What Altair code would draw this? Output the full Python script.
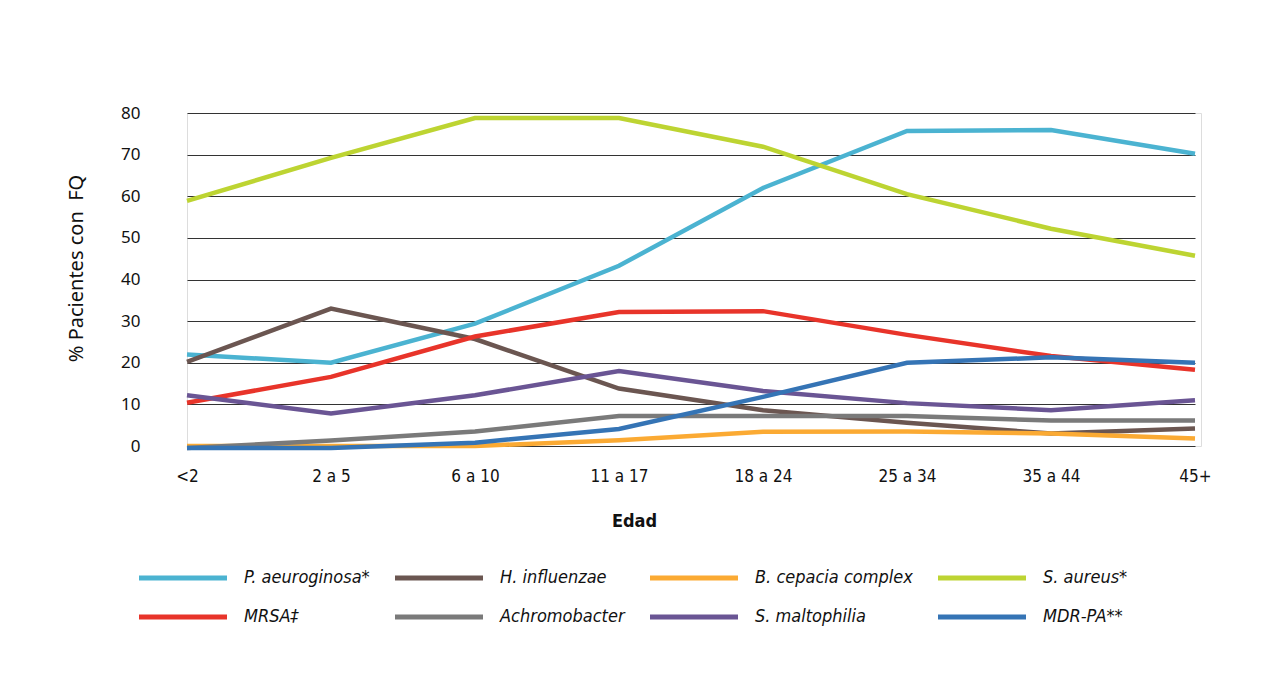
import altair as alt
import pandas as pd

ages = ["<2", "2 a 5", "6 a 10", "11 a 17", "18 a 24", "25 a 34", "35 a 44", "45+"]

series_names = [
    "P. aeuroginosa*", "H. influenzae", "B. cepacia complex", "S. aureus*",
    "MRSA\u2021", "Achromobacter", "S. maltophilia", "MDR-PA**",
]
series_colors = [
    "#4BB3D1", "#6B5651", "#FBAA33", "#BDD432",
    "#E8342A", "#7A7A7A", "#6A5594", "#3574B5",
]

p_aeruginosa = [22.0, 20.0, 29.4, 43.3, 62.0, 75.7, 75.9, 70.2]
h_influenzae = [20.2, 33.0, 25.7, 13.8, 8.6, 5.6, 3.0, 4.2]
b_cepacia = [0.0, 0.0, 0.0, 1.4, 3.4, 3.5, 3.0, 1.8]
s_aureus = [58.9, 69.2, 78.8, 78.8, 71.9, 60.5, 52.2, 45.7]
mrsa = [10.4, 16.6, 26.3, 32.2, 32.4, 26.7, 21.6, 18.3]
achromobacter = [-0.5, 1.3, 3.5, 7.2, 7.2, 7.2, 6.1, 6.1]
s_maltophilia = [12.2, 7.8, 12.2, 18.0, 13.2, 10.3, 8.6, 11.0]
mdr_pa = [-0.5, -0.5, 0.8, 4.1, 11.8, 20.0, 21.3, 20.0]

all_values = [p_aeruginosa, h_influenzae, b_cepacia, s_aureus,
              mrsa, achromobacter, s_maltophilia, mdr_pa]

rows = []
for name, vals in zip(series_names, all_values):
    for i, (age, v) in enumerate(zip(ages, vals)):
        rows.append({"Edad": age, "valor": v, "serie": name, "orden": i})
df = pd.DataFrame(rows)

narrow = "'DejaVu Sans Condensed', 'Liberation Sans Narrow', 'Noto Sans', sans-serif"
regular = "'Noto Sans', 'Open Sans', sans-serif"

chart = alt.Chart(df).mark_line(strokeWidth=4.5, strokeJoin="miter", strokeCap="butt").encode(
    x=alt.X("Edad:N", sort=ages,
            scale=alt.Scale(type="point", range=[0, 1008], padding=0),
            axis=alt.Axis(title="Edad", labelAngle=0, ticks=False, domain=False, grid=False,
                          labelFont=narrow, labelFontSize=17, labelColor="#111",
                          labelPadding=22,
                          titleFont=narrow, titleFontSize=18, titleFontWeight="bold",
                          titleColor="#111", titleX=447, titleY=66)),
    y=alt.Y("valor:Q",
            scale=alt.Scale(domain=[0, 80], nice=False, zero=False),
            axis=alt.Axis(title="% Pacientes con\u00a0 FQ", values=[0, 10, 20, 30, 40, 50, 60, 70, 80],
                          ticks=False, domain=False, grid=True, gridColor="#333", gridWidth=1,
                          labelFont=regular, labelFontSize=17, labelColor="#111", labelPadding=47,
                          titleFont=regular, titleFontSize=20, titleFontWeight="normal",
                          titleColor="#111", titleX=-101, titleY=155)),
    color=alt.Color("serie:N",
                    scale=alt.Scale(domain=series_names, range=series_colors),
                    legend=alt.Legend(orient="none", legendX=-13, legendY=456,
                                      direction="horizontal", columns=4, title=None,
                                      symbolType="M-8,0L8,0", symbolSize=121,
                                      symbolStrokeWidth=5, labelFont=narrow,
                                      labelFontStyle="italic", labelFontSize=18,
                                      labelColor="#111", labelOffset=52,
                                      columnPadding=15, rowPadding=19, labelLimit=300)),
    order=alt.Order("orden:Q"),
).properties(
    width=1014,
    height=333,
    padding={"left": 179, "top": 105, "right": 71, "bottom": 229},
    autosize=alt.AutoSizeParams(type="none"),
).configure_view(stroke=None).configure(background="white")

chart.save("out.html", embed_options={"renderer": "svg", "actions": False})
